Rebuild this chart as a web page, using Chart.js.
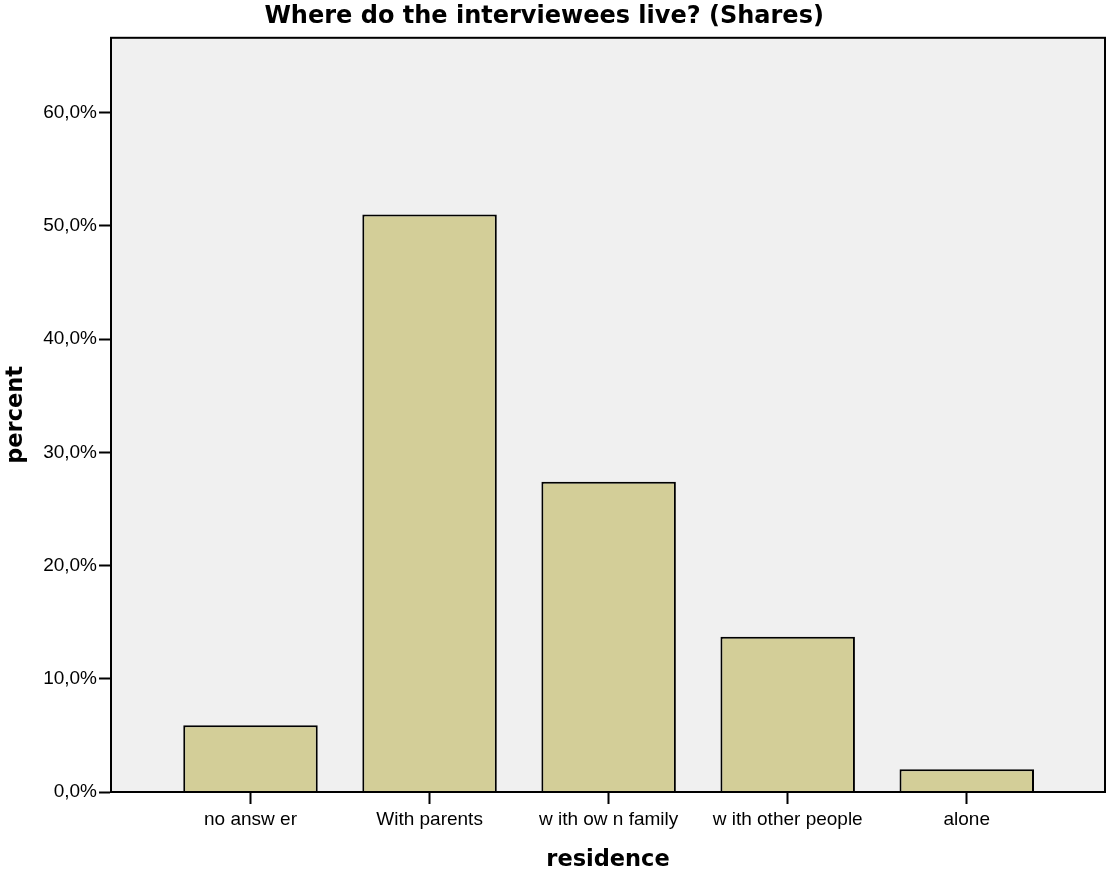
<!DOCTYPE html>
<html>
<head>
<meta charset="utf-8">
<script src="https://cdn.jsdelivr.net/npm/chart.js@4/dist/chart.umd.min.js"></script>
<style>
  body { margin: 0; background: #fff; }
</style>
</head>
<body>
<canvas id="residence" width="1106" height="874"></canvas>
<script>
'use strict';

const categories = ['no answ er', 'With parents', 'w ith ow n family', 'w ith other people', 'alone'];
const shares = [5.9, 51.0, 27.4, 13.7, 2.0];
const yTicks = [0, 10, 20, 30, 40, 50, 60];

// grey plot background and black frame round the plot area
const frame = {
  id: 'frame',
  beforeDatasetsDraw(chart) {
    const a = chart.chartArea;
    const ctx = chart.ctx;
    ctx.save();
    ctx.fillStyle = '#f0f0f0';
    ctx.fillRect(a.left, a.top, a.right - a.left, a.bottom - a.top);
    ctx.restore();
  },
  afterDatasetsDraw(chart) {
    const a = chart.chartArea;
    const ctx = chart.ctx;
    ctx.save();
    ctx.strokeStyle = '#000';
    ctx.lineWidth = 2;
    ctx.strokeRect(a.left, a.top, a.right - a.left, a.bottom - a.top);
    ctx.restore();
  }
};

function chartResidence() {
  let chartObject = {
    type: 'bar',
    data: {
      datasets: [{
        label: 'percent',
        data: categories.map((c, i) => ({ x: i + 1, y: shares[i] })),
        backgroundColor: '#d3ce98',
        borderColor: '#000',
        borderWidth: 2,
        barPercentage: 0.751,
        categoryPercentage: 1
      }]
    },
    options: {
      responsive: false,
      animation: false,
      events: [],
      layout: { padding: { left: 0, right: 1, top: 0, bottom: 0 } },
      plugins: {
        legend: { display: false },
        tooltip: { enabled: false },
        title: {
          display: true,
          text: 'Where do the interviewees live? (Shares)  ',
          color: '#000',
          font: { family: 'DejaVu Sans', size: 24, weight: 'bold', lineHeight: 1.2 },
          padding: { top: 2, bottom: 7 }
        }
      },
      scales: {
        x: {
          type: 'linear',
          min: 0.221,
          max: 5.772,
          offset: false,
          afterFit(scale) { scale.height = 82; },
          afterBuildTicks(scale) {
            scale.ticks = categories.map((c, i) => ({ value: i + 1 }));
          },
          ticks: {
            stepSize: 1,
            autoSkip: false,
            maxRotation: 0,
            padding: 4,
            color: '#000',
            font: { family: 'Liberation Sans', size: 19 },
            callback: (v) => categories[v - 1]
          },
          grid: { offset: false, drawOnChartArea: false, drawTicks: true, tickLength: 12, tickWidth: 2, color: '#000' },
          border: { display: true, color: '#000', width: 2 },
          title: {
            display: true,
            text: 'residence',
            color: '#000',
            font: { family: 'DejaVu Sans', size: 22.5, weight: 'bold', lineHeight: 1.2 },
            padding: { top: 0, bottom: 0 }
          }
        },
        y: {
          min: 0,
          max: 66.6,
          afterFit(scale) { scale.width = 111; },
          afterBuildTicks(scale) {
            scale.ticks = yTicks.map(v => ({ value: v }));
          },
          ticks: {
            stepSize: 10,
            includeBounds: false,
            padding: 2,
            color: '#000',
            font: { family: 'Liberation Sans', size: 19 },
            callback: (v) => v.toFixed(1).replace('.', ',') + '%'
          },
          grid: { drawOnChartArea: false, drawTicks: true, tickLength: 12, tickWidth: 2, color: '#000' },
          border: { display: true, color: '#000', width: 2 },
          title: {
            display: true,
            text: 'percent',
            color: '#000',
            font: { family: 'DejaVu Sans', size: 22.5, weight: 'bold', lineHeight: 1.2 },
            padding: { top: 3, bottom: 3 }
          }
        }
      }
    },
    plugins: [frame]
  };

  let ctx = document.getElementById('residence').getContext('2d');
  let myChart = new Chart(ctx, chartObject);
}

chartResidence();
</script>
</body>
</html>
